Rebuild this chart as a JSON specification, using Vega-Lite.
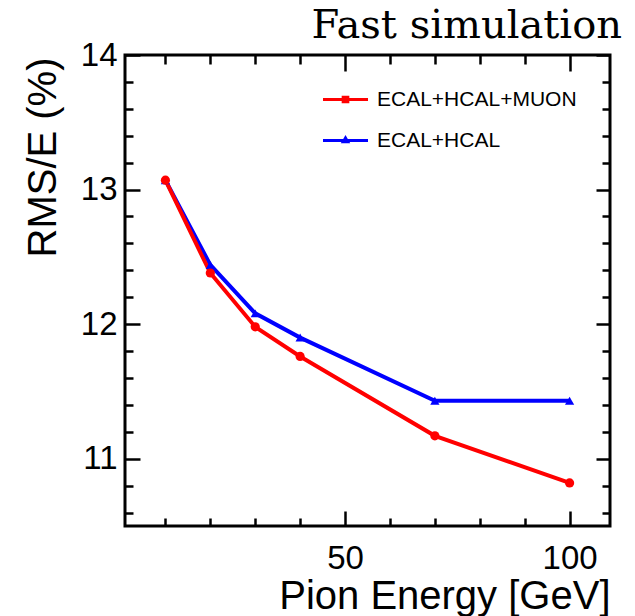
{
  "$schema": "https://vega.github.io/schema/vega-lite/v6.json",
  "width": 485,
  "height": 471,
  "autosize": {"type": "none"},
  "padding": {"left": 125, "top": 55, "right": 25, "bottom": 90},
  "background": "white",
  "config": {
    "view": {"stroke": "black", "strokeWidth": 3},
    "font": "Liberation Sans",
    "axis": {"domain": false, "grid": false, "tickColor": "black", "tickWidth": 2.5, "labelFont": "Liberation Sans", "labelColor": "black", "titleFont": "Liberation Sans", "titleColor": "black", "titleFontWeight": "normal", "labelFlush": false, "labelOverlap": false}
  },
  "title": {"text": "Fast simulation", "anchor": "end", "frame": "group", "font": "DejaVu Serif", "fontSize": 40, "fontWeight": "normal", "color": "black", "baseline": "bottom", "offset": -47, "dx": 12},
  "data": {"values": [
    {"energy": 10, "rms": 13.07, "config": "ECAL+HCAL"},
    {"energy": 20, "rms": 12.44, "config": "ECAL+HCAL"},
    {"energy": 30, "rms": 12.08, "config": "ECAL+HCAL"},
    {"energy": 40, "rms": 11.9, "config": "ECAL+HCAL"},
    {"energy": 70, "rms": 11.43, "config": "ECAL+HCAL"},
    {"energy": 100, "rms": 11.43, "config": "ECAL+HCAL"},
    {"energy": 10, "rms": 13.07, "config": "ECAL+HCAL+MUON"},
    {"energy": 20, "rms": 12.38, "config": "ECAL+HCAL+MUON"},
    {"energy": 30, "rms": 11.98, "config": "ECAL+HCAL+MUON"},
    {"energy": 40, "rms": 11.76, "config": "ECAL+HCAL+MUON"},
    {"energy": 70, "rms": 11.17, "config": "ECAL+HCAL+MUON"},
    {"energy": 100, "rms": 10.82, "config": "ECAL+HCAL+MUON"}
  ]},
  "resolve": {"axis": {"x": "independent", "y": "independent"}, "scale": {"color": "independent", "shape": "independent"}},
  "layer": [
    {
      "mark": {"type": "line", "strokeWidth": 4},
      "encoding": {
        "x": {"field": "energy", "type": "quantitative", "scale": {"domain": [1, 109], "nice": false, "zero": false},
          "axis": {"orient": "bottom", "values": [10, 20, 30, 40, 50, 60, 70, 80, 90, 100],
            "tickSize": {"condition": {"test": "datum.value % 50 === 0", "value": -15}, "value": -8},
            "labelExpr": "datum.value % 50 === 0 ? datum.label : ''",
            "labelFontSize": 33, "labelPadding": 31, "labelBaseline": "top",
            "title": "Pion Energy [GeV]", "titleFontSize": 40, "titleAnchor": "end", "titleAlign": "right", "titleBaseline": "alphabetic", "titleX": 485, "titleY": 82}},
        "y": {"field": "rms", "type": "quantitative", "scale": {"domain": [10.5, 14], "nice": false, "zero": false},
          "axis": {"orient": "left", "values": [10.6, 10.8, 11, 11.2, 11.4, 11.6, 11.8, 12, 12.2, 12.4, 12.6, 12.8, 13, 13.2, 13.4, 13.6, 13.8, 14],
            "tickSize": {"condition": {"test": "abs(datum.value - round(datum.value)) < 0.001", "value": -15}, "value": -8},
            "labelExpr": "abs(datum.value - round(datum.value)) < 0.001 ? format(datum.value, 'd') : ''",
            "labelFontSize": 33, "labelPadding": 23,
            "title": "RMS/E (%)", "titleFontSize": 40, "titleAngle": -90, "titleAlign": "center", "titleBaseline": "alphabetic", "titleX": -70, "titleY": 102}},
        "color": {"field": "config", "type": "nominal", "scale": {"domain": ["ECAL+HCAL+MUON", "ECAL+HCAL"], "range": ["#ff0000", "#0000ff"]}, "legend": null},
        "order": {"field": "energy", "type": "quantitative"}
      }
    },
    {
      "mark": {"type": "point", "filled": true, "opacity": 1},
      "encoding": {
        "x": {"field": "energy", "type": "quantitative", "scale": {"domain": [1, 109], "nice": false, "zero": false},
          "axis": {"orient": "top", "values": [10, 20, 30, 40, 50, 60, 70, 80, 90, 100], "labels": false, "title": null,
            "tickSize": {"condition": {"test": "datum.value % 50 === 0", "value": -16}, "value": -9}}},
        "y": {"field": "rms", "type": "quantitative", "scale": {"domain": [10.5, 14], "nice": false, "zero": false},
          "axis": {"orient": "right", "values": [10.6, 10.8, 11, 11.2, 11.4, 11.6, 11.8, 12, 12.2, 12.4, 12.6, 12.8, 13, 13.2, 13.4, 13.6, 13.8, 14], "labels": false, "title": null,
            "tickSize": {"condition": {"test": "abs(datum.value - round(datum.value)) < 0.001", "value": -14}, "value": -8}}},
        "color": {"field": "config", "type": "nominal", "scale": {"domain": ["ECAL+HCAL+MUON", "ECAL+HCAL"], "range": ["#ff0000", "#0000ff"]}, "legend": null},
        "shape": {"field": "config", "type": "nominal", "scale": {"domain": ["ECAL+HCAL+MUON", "ECAL+HCAL"], "range": ["circle", "triangle-up"]}, "legend": null},
        "size": {"value": 85}
      }
    },
    {
      "transform": [{"filter": "datum.energy < 0"}],
      "mark": {"type": "point", "filled": true},
      "encoding": {
        "x": {"field": "energy", "type": "quantitative", "scale": {"domain": [1, 109], "nice": false, "zero": false}, "axis": null},
        "y": {"field": "rms", "type": "quantitative", "scale": {"domain": [10.5, 14], "nice": false, "zero": false}, "axis": null},
        "color": {"field": "config", "type": "nominal", "scale": {"domain": ["ECAL+HCAL+MUON", "ECAL+HCAL"], "range": ["#ff0000", "#0000ff"]},
          "legend": {"title": null, "orient": "none", "legendX": 198, "legendY": 22, "padding": 0, "symbolSize": 2025, "symbolStrokeWidth": 0, "symbolOpacity": 1, "labelFontSize": 21, "labelFont": "Liberation Sans", "labelColor": "black", "labelOffset": 9, "labelLimit": 400, "rowPadding": 8}},
        "shape": {"field": "config", "type": "nominal", "scale": {"domain": ["ECAL+HCAL+MUON", "ECAL+HCAL"], "range": ["M-1,-0.07H1V0.07H-1Z M-0.17,-0.17H0.17V0.17H-0.17Z", "M-1,-0.07H1V0.07H-1Z M0,-0.24L0.21,0.12H-0.21Z"]},
          "legend": {"title": null, "orient": "none", "legendX": 198, "legendY": 22, "padding": 0, "symbolSize": 2025, "symbolStrokeWidth": 0, "symbolOpacity": 1, "labelFontSize": 21, "labelFont": "Liberation Sans", "labelColor": "black", "labelOffset": 9, "labelLimit": 400, "rowPadding": 8}}
      }
    }
  ]
}
